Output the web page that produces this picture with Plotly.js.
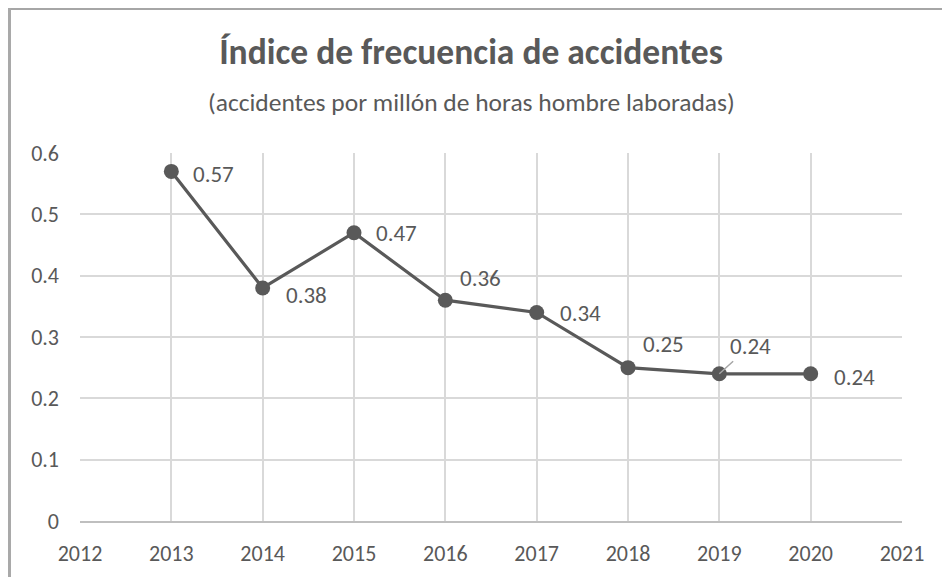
<!DOCTYPE html>
<html>
<head>
<meta charset="utf-8">
<script src="https://cdn.plot.ly/plotly-3.0.1.min.js"></script>
<style>
  html, body { margin: 0; padding: 0; background: #ffffff; }
  #wrap { position: relative; width: 942px; height: 577px; overflow: hidden; }
  #chart { position: absolute; left: 0; top: 0; width: 942px; height: 577px; }
  .frameTop { position: absolute; left: 8px; top: 8px; width: 934px; height: 2px; background: #a6a6a6; }
  .frameLeft { position: absolute; left: 8px; top: 8px; width: 3px; height: 569px; background: #a9a9a9; }
</style>
</head>
<body>
<div id="wrap">
  <div id="chart"></div>
  <div class="frameTop"></div>
  <div class="frameLeft"></div>
</div>
<script>
// ---- Data ----
var years = [2013, 2014, 2015, 2016, 2017, 2018, 2019, 2020];
var values = [0.57, 0.38, 0.47, 0.36, 0.34, 0.25, 0.24, 0.24];
var valueLabels = ["0.57", "0.38", "0.47", "0.36", "0.34", "0.25", "0.24", "0.24"];
var titleText = "Índice de frecuencia de accidentes";
var subtitleText = "(accidentes por millón de horas hombre laboradas)";

// label placement offsets in pixels (left edge dx, center dy downwards)
var labelDx = [20, 21, 20, 13, 21, 13, 8, 21];
var labelDy = [3, 7, 0, -22, 1, -24, -28, 3];
var leader = [false, false, false, false, false, false, true, false];

var textColor = "#595959";
var font = "Carlito, Lato, 'Open Sans', sans-serif";

var trace = {
  x: years,
  y: values,
  type: "scatter",
  mode: "lines+markers",
  line: { color: "#595959", width: 3.2 },
  marker: { color: "#595959", size: 15 },
  hoverinfo: "x+y",
  showlegend: false
};

var annotations = [];
for (var i = 0; i < years.length; i++) {
  if (leader[i]) {
    annotations.push({
      x: years[i], y: values[i], xref: "x", yref: "y",
      text: valueLabels[i],
      showarrow: true, arrowhead: 0, arrowwidth: 1.5, arrowcolor: "#a6a6a6",
      ax: labelDx[i] + 23, ay: labelDy[i], standoff: 0,
      font: { family: font, size: 23, color: textColor }
    });
  } else {
    annotations.push({
      x: years[i], y: values[i], xref: "x", yref: "y",
      text: valueLabels[i], showarrow: false,
      xanchor: "left", yanchor: "middle",
      xshift: labelDx[i], yshift: -labelDy[i],
      font: { family: font, size: 23, color: textColor }
    });
  }
}
annotations.push({
  text: subtitleText, showarrow: false,
  xref: "paper", yref: "paper",
  x: (471 - 80) / 822, y: (521 - 103) / 368,
  xanchor: "center", yanchor: "middle",
  font: { family: font, size: 25.5, color: textColor, weight: 300 }
});

var layout = {
  width: 942, height: 577,
  autosize: false,
  paper_bgcolor: "rgba(0,0,0,0)",
  plot_bgcolor: "#ffffff",
  margin: { l: 80, r: 40, t: 153, b: 56, pad: 0 },
  title: {
    text: "<b>" + titleText + "</b>",
    xref: "container", yref: "container",
    x: 0.5, xanchor: "center",
    y: 1 - 52 / 577, yanchor: "middle",
    font: { family: font, size: 35.5, color: textColor }
  },
  xaxis: {
    range: [2012, 2021],
    tickmode: "linear", tick0: 2012, dtick: 1,
    showgrid: true, gridcolor: "#d9d9d9", gridwidth: 1.8,
    zeroline: false,
    showline: true, linecolor: "#bfbfbf", linewidth: 1.8,
    ticks: "", ticklabelstandoff: 12,
    tickfont: { family: font, size: 22, color: textColor },
    fixedrange: true
  },
  yaxis: {
    range: [0, 0.6],
    tickmode: "linear", tick0: 0, dtick: 0.1,
    showgrid: true, gridcolor: "#d9d9d9", gridwidth: 1.8,
    zeroline: false, showline: false,
    ticks: "", ticklabelstandoff: 20,
    tickfont: { family: font, size: 22, color: textColor },
    fixedrange: true
  },
  annotations: annotations
};

Plotly.newPlot("chart", [trace], layout, { displayModeBar: false, staticPlot: true });
</script>
</body>
</html>
